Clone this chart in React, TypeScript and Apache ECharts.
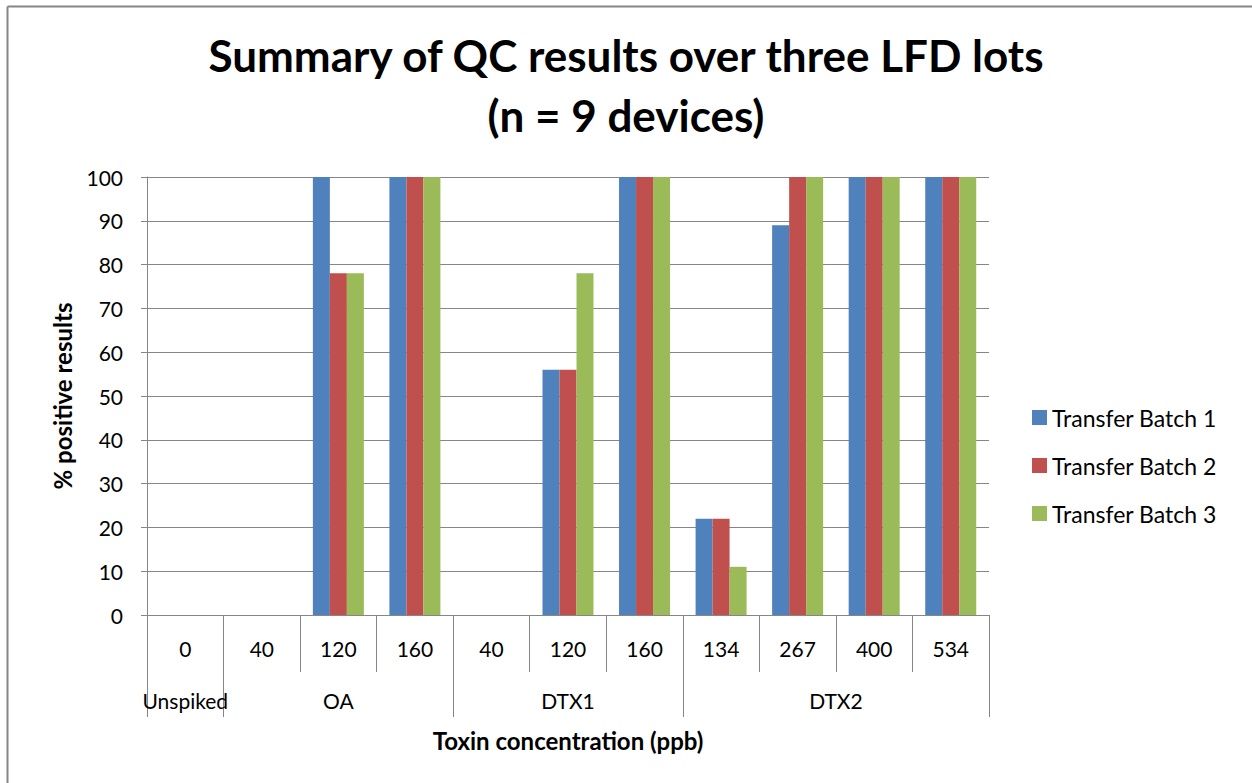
import React, { useEffect, useRef } from "react";
import * as echarts from "echarts";

const concentrations = ["0", "40", "120", "160", "40", "120", "160", "134", "267", "400", "534"];
const groups = ["Unspiked", "OA", "DTX1", "DTX2"];
const groupBoundaries = [0, 1, 4, 7, 11];
const groupCenters = [0.5, 2.5, 5.5, 9];
const batch1 = [0, 0, 100, 100, 0, 56, 100, 22, 89, 100, 100];
const batch2 = [0, 0, 78, 100, 0, 56, 100, 22, 100, 100, 100];
const batch3 = [0, 0, 78, 100, 0, 78, 100, 11, 100, 100, 100];
const seriesNames = ["Transfer Batch 1", "Transfer Batch 2", "Transfer Batch 3"];
const colors = ["#4F81BD", "#C0504D", "#9BBB59"];

const FONT = "Lato, 'Open Sans', sans-serif";
const GRAY = "#868686";

export default function App() {
  const ref = useRef<HTMLDivElement>(null);
  useEffect(() => {
    if (!ref.current) return;
    const chart = echarts.init(ref.current, undefined, { renderer: "svg" });
    const data = [batch1, batch2, batch3];
    chart.setOption({
      animation: false,
      textStyle: { fontFamily: FONT, color: "#000" },
      title: {
        text: "Summary of QC results over three LFD lots\n(n = 9 devices)",
        left: "center",
        top: 20,
        textStyle: { fontSize: 44, fontWeight: "bold", lineHeight: 60, fontFamily: FONT, color: "#000" },
      },
      graphic: [
        {
          type: "line",
          shape: { x1: 7.5, y1: 6.5, x2: 1252, y2: 6.5 },
          style: { stroke: GRAY, lineWidth: 2 },
          silent: true,
        },
        {
          type: "line",
          shape: { x1: 7.5, y1: 6.5, x2: 7.5, y2: 783 },
          style: { stroke: GRAY, lineWidth: 2 },
          silent: true,
        },
      ],
      legend: {
        orient: "vertical",
        left: 1027,
        top: 401,
        itemWidth: 15,
        itemHeight: 15,
        itemGap: 25,
        icon: "rect",
        data: seriesNames,
        textStyle: { fontSize: 23, fontFamily: FONT, color: "#000" },
      },
      grid: { left: 147, right: 263, top: 177, bottom: 168 },
      xAxis: [
        {
          type: "category",
          data: concentrations,
          axisLine: { show: true, lineStyle: { color: GRAY } },
          axisTick: { show: true, length: 57, interval: 0, alignWithLabel: false, lineStyle: { color: GRAY } },
          axisLabel: { interval: 0, margin: 23, fontSize: 21, color: "#000", fontFamily: FONT },
        },
        {
          type: "value",
          min: 0,
          max: 11,
          position: "bottom",
          offset: 57,
          splitLine: { show: false },
          axisLine: { show: false },
          axisTick: { show: true, length: 45, customValues: groupBoundaries, lineStyle: { color: GRAY } },
          axisLabel: {
            customValues: groupCenters,
            margin: 18,
            fontSize: 21,
            color: "#000",
            fontFamily: FONT,
            formatter: (v: number) => groups[groupCenters.indexOf(v)] ?? "",
          },
          name: "Toxin concentration (ppb)",
          nameLocation: "middle",
          nameGap: 56,
          nameTextStyle: { fontSize: 24, fontWeight: "bold", color: "#000", fontFamily: FONT },
        },
      ],
      yAxis: {
        type: "value",
        min: 0,
        max: 100,
        interval: 10,
        axisLine: { show: true, lineStyle: { color: GRAY } },
        axisTick: { show: true, length: 6, lineStyle: { color: GRAY } },
        splitLine: { show: true, lineStyle: { color: GRAY } },
        axisLabel: { fontSize: 21, margin: 24, color: "#000", fontFamily: FONT },
        name: "% positive results",
        nameLocation: "middle",
        nameGap: 73,
        nameTextStyle: { fontSize: 24, fontWeight: "bold", color: "#000", fontFamily: FONT },
      },
      series: seriesNames.map((name, i) => ({
        name,
        type: "bar",
        xAxisIndex: 0,
        data: data[i],
        barWidth: 17,
        barGap: "0%",
        itemStyle: { color: colors[i] },
      })),
    });
    return () => chart.dispose();
  }, []);
  return (
    <div
      ref={ref}
      style={{ position: "absolute", left: 0, top: 0, width: 1252, height: 783, background: "#fff" }}
    />
  );
}
